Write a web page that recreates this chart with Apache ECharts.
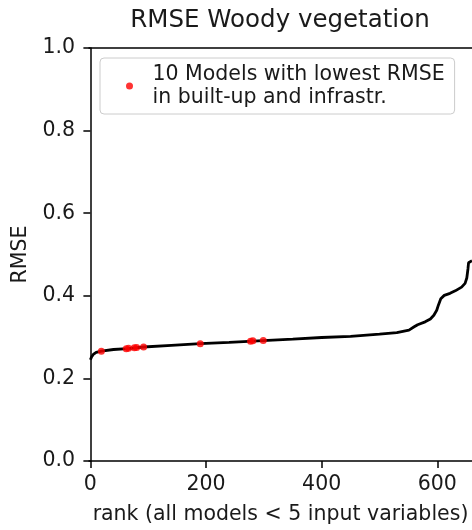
<!DOCTYPE html>
<html lang="en">
<head>
<meta charset="utf-8">
<script src="https://cdn.jsdelivr.net/npm/echarts@6/dist/echarts.min.js"></script>
</head>
<body style="margin:0">
<div id="container" style="width:472px;height:530px"></div>
<script>
// sorted RMSE of all models
var rank = [0, 2, 5, 10, 19, 40, 64, 92, 140, 190, 240, 290, 350, 400, 450, 500, 530, 551,
            560, 566, 579, 588, 594, 599, 602, 606, 612, 622, 631, 642, 648, 651, 653, 654, 660];
var rmse = [0.245, 0.252, 0.258, 0.263, 0.266, 0.270, 0.272, 0.276, 0.280, 0.284, 0.287, 0.291,
            0.295, 0.299, 0.302, 0.307, 0.311, 0.317, 0.325, 0.330, 0.337, 0.344, 0.353, 0.365,
            0.378, 0.393, 0.401, 0.406, 0.412, 0.421, 0.430, 0.443, 0.465, 0.480, 0.485];
// 10 best models in built-up and infrastructure
var bestRank = [19, 62, 66, 76, 80, 92, 190, 277, 281, 299];
var bestRmse = [0.266, 0.272, 0.273, 0.274, 0.275, 0.276, 0.284, 0.290, 0.291, 0.292];
var xTicks = [0, 200, 400, 600];

var font = 'DejaVu Sans';
var ink = '#1a1a1a';

var dom = document.getElementById('container');
var myChart = echarts.init(dom);

var axisLine = { show: true, lineStyle: { color: '#000', width: 1.5 } };
var axisTick = { show: true, inside: false, length: 7, lineStyle: { color: '#000', width: 1.5 } };

var option = {
    animation: false,
    backgroundColor: '#fff',
    title: {
        text: 'RMSE Woody vegetation',
        left: 280,
        top: 8,
        padding: 0,
        textAlign: 'center',
        textStyle: { fontFamily: font, fontSize: 24.5, fontWeight: 'normal', color: ink }
    },
    legend: {
        left: 100,
        top: 58,
        padding: [5, 10, 5, 26],
        itemWidth: 36,
        itemHeight: 7,
        backgroundColor: '#fff',
        borderColor: '#cccccc',
        borderWidth: 1,
        borderRadius: 4,
        data: [{ name: '10 Models with lowest RMSE\nin built-up and infrastr.', icon: 'circle' }],
        textStyle: { fontFamily: font, fontSize: 20.5, lineHeight: 23, color: ink }
    },
    grid: { left: 89, top: 48, right: -2, bottom: 64 },
    xAxis: [{
        type: 'value',
        min: -2.4,
        max: 660,
        name: 'rank (all models < 5 input variables)',
        nameLocation: 'middle',
        nameGap: 43,
        nameTextStyle: { fontFamily: font, fontSize: 20.5, color: ink },
        axisLine: axisLine,
        axisTick: Object.assign({ customValues: xTicks }, axisTick),
        axisLabel: { customValues: xTicks, margin: 13, fontFamily: font, fontSize: 20.5, color: ink },
        splitLine: { show: false }
    }, {
        type: 'value',
        position: 'top',
        min: -2.4,
        max: 660,
        axisLine: axisLine,
        axisTick: { show: false },
        axisLabel: { show: false },
        splitLine: { show: false }
    }],
    yAxis: {
        type: 'value',
        min: 0,
        max: 1,
        interval: 0.2,
        name: 'RMSE',
        nameLocation: 'middle',
        nameGap: 52,
        nameTextStyle: { fontFamily: font, fontSize: 20.5, color: ink },
        axisLine: axisLine,
        axisTick: axisTick,
        axisLabel: {
            margin: 14,
            fontFamily: font,
            fontSize: 20.5,
            color: ink,
            formatter: function (v) { return v.toFixed(1); }
        },
        splitLine: { show: false }
    },
    series: [{
        name: 'all models',
        type: 'line',
        data: rank.map(function (r, i) { return [r, rmse[i]]; }),
        showSymbol: false,
        lineStyle: { color: '#000', width: 2.8 },
        z: 2
    }, {
        name: '10 Models with lowest RMSE\nin built-up and infrastr.',
        type: 'scatter',
        data: bestRank.map(function (r, i) { return [r, bestRmse[i]]; }),
        symbol: 'circle',
        symbolSize: 7,
        itemStyle: { color: '#ff0000' },
        z: 3
    }]
};

myChart.setOption(option);
</script>
</body>
</html>
